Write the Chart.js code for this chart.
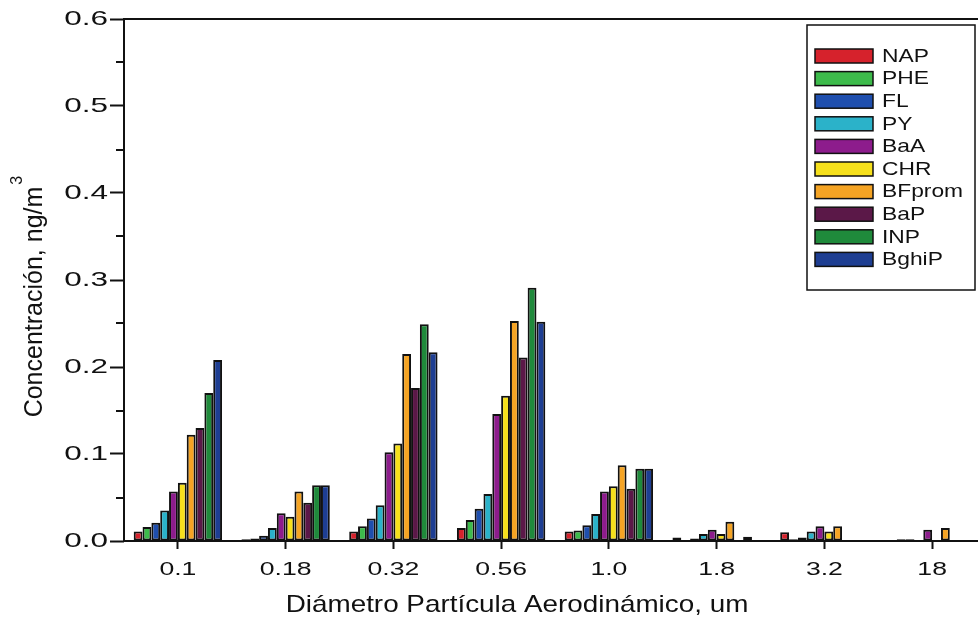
<!DOCTYPE html>
<html>
<head>
<meta charset="utf-8">
<script src="https://cdn.jsdelivr.net/npm/chart.js@4/dist/chart.umd.min.js"></script>
<style>
  html, body { margin: 0; padding: 0; background: #ffffff; overflow: hidden; }
  #wrap { position: absolute; left: 0; top: 0; width: 990px; height: 621px; }
</style>
</head>
<body>
<div id="wrap"><canvas id="chart" width="990" height="621"></canvas></div>
<script>
// Aerodynamic diameter classes (um)
const categories = ['0.1', '0.18', '0.32', '0.56', '1.0', '1.8', '3.2', '18'];

// PAH concentrations, ng/m3, one array per compound
const NAP    = [0.011, 0.002, 0.011, 0.015, 0.011, 0.004, 0.010, 0.000];
const PHE    = [0.016, 0.003, 0.017, 0.024, 0.012, 0.001, 0.002, 0.002];
const FL     = [0.021, 0.006, 0.026, 0.037, 0.018, 0.003, 0.004, 0.002];
const PY     = [0.035, 0.015, 0.041, 0.054, 0.031, 0.008, 0.011, 0.000];
const BaA    = [0.057, 0.032, 0.102, 0.146, 0.057, 0.013, 0.017, 0.013];
const CHR    = [0.067, 0.028, 0.112, 0.167, 0.063, 0.008, 0.011, 0.000];
const BFprom = [0.122, 0.057, 0.215, 0.253, 0.087, 0.022, 0.017, 0.015];
const BaP    = [0.130, 0.044, 0.176, 0.211, 0.060, 0.000, 0.000, 0.000];
const INP    = [0.170, 0.064, 0.249, 0.291, 0.083, 0.005, 0.000, 0.000];
const BghiP  = [0.208, 0.064, 0.217, 0.252, 0.083, 0.000, 0.000, 0.000];

// Axis ticks
const yTicks = [0, 0.1, 0.2, 0.3, 0.4, 0.5, 0.6];
const yMinorTicks = [0.05, 0.15, 0.25, 0.35, 0.45, 0.55];

const series = [
  { label: 'NAP',    data: NAP,    color: '#d6222c' },
  { label: 'PHE',    data: PHE,    color: '#3dbb4b' },
  { label: 'FL',     data: FL,     color: '#1f4fae' },
  { label: 'PY',     data: PY,     color: '#2bb2c9' },
  { label: 'BaA',    data: BaA,    color: '#8d1c8c' },
  { label: 'CHR',    data: CHR,    color: '#f6e01c' },
  { label: 'BFprom', data: BFprom, color: '#f5a424' },
  { label: 'BaP',    data: BaP,    color: '#5b1848' },
  { label: 'INP',    data: INP,    color: '#1f8a3b' },
  { label: 'BghiP',  data: BghiP,  color: '#1e3e92' }
];

const FONT = '"Liberation Sans", Arial, Helvetica, sans-serif';
const INK = '#111';

// Text drawn with a horizontal stretch factor around its anchor point
function wideText(ctx, text, x, y, size, sx, align, baseline) {
  ctx.save();
  ctx.translate(x, y);
  ctx.scale(sx, 1);
  ctx.font = size + 'px ' + FONT;
  ctx.textAlign = align;
  ctx.textBaseline = baseline;
  ctx.fillStyle = INK;
  ctx.fillText(text, 0, 0);
  ctx.restore();
}

// Frame, minor ticks, tick labels, axis titles and the boxed legend
const decorations = {
  id: 'decorations',
  afterDraw(chart) {
    const ctx = chart.ctx;
    const a = chart.chartArea;
    const xs = chart.scales.x;
    const ys = chart.scales.y;

    ctx.save();
    ctx.strokeStyle = INK;
    ctx.lineWidth = 2;
    ctx.strokeRect(a.left, a.top, a.right - a.left, a.bottom - a.top);

    // minor ticks on the value axis
    ctx.beginPath();
    yMinorTicks.forEach(v => {
      const py = Math.round(ys.getPixelForValue(v));
      ctx.moveTo(a.left - 8, py);
      ctx.lineTo(a.left, py);
    });
    ctx.stroke();

    // value axis tick labels
    ys.ticks.forEach(t => {
      wideText(ctx, Number(t.value).toFixed(1), 108, ys.getPixelForValue(t.value),
               21, 1.5, 'right', 'middle');
    });

    // category axis tick labels
    xs.ticks.forEach((t, i) => {
      wideText(ctx, xs.getLabelForValue(t.value), xs.getPixelForTick(i), 575,
               19, 1.4, 'center', 'alphabetic');
    });

    // value axis title with superscript
    ctx.fillStyle = INK;
    ctx.translate(42, 302);
    ctx.rotate(-Math.PI / 2);
    ctx.font = '25px ' + FONT;
    ctx.textAlign = 'center';
    ctx.textBaseline = 'alphabetic';
    const main = 'Concentración, ng/m';
    const w = ctx.measureText(main).width;
    ctx.fillText(main, 0, 0);
    ctx.font = '16px ' + FONT;
    ctx.textAlign = 'left';
    ctx.fillText('3', w / 2 + 2, -20);
    ctx.setTransform(1, 0, 0, 1, 0, 0);

    // category axis title
    wideText(ctx, 'Diámetro Partícula Aerodinámico, um', 517, 605, 24, 1.16, 'center', 'middle');

    // legend
    const lx = 807, ly = 25, lw = 168, lh = 265;
    ctx.fillStyle = '#ffffff';
    ctx.fillRect(lx, ly, lw, lh);
    ctx.lineWidth = 1.5;
    ctx.strokeStyle = INK;
    ctx.strokeRect(lx, ly, lw, lh);
    chart.data.datasets.forEach((ds, i) => {
      const sy = 49 + i * 22.6;
      ctx.fillStyle = ds.backgroundColor;
      ctx.fillRect(815, sy, 58, 14);
      ctx.lineWidth = 1.5;
      ctx.strokeStyle = INK;
      ctx.strokeRect(815, sy, 58, 14);
      wideText(ctx, ds.label, 882, sy + 7.5, 19, 1.2, 'left', 'middle');
    });
    ctx.restore();
  }
};

new Chart(document.getElementById('chart'), {
  type: 'bar',
  data: {
    labels: categories,
    datasets: series.map(s => ({
      label: s.label,
      data: s.data,
      backgroundColor: s.color,
      borderColor: INK,
      borderWidth: 2,
      borderSkipped: false,
      categoryPercentage: 0.82,
      barPercentage: 1.0
    }))
  },
  options: {
    responsive: false,
    animation: false,
    devicePixelRatio: 1,
    layout: { padding: { top: 19, right: 4, left: 0, bottom: 0 } },
    plugins: {
      legend: { display: false },
      tooltip: { enabled: false },
      title: { display: false }
    },
    scales: {
      x: {
        offset: true,
        border: { display: false },
        grid: {
          offset: false,
          drawOnChartArea: false,
          drawTicks: true,
          tickLength: 8,
          tickWidth: 2,
          tickColor: INK
        },
        ticks: { display: false },
        afterFit(scale) { scale.height = 80; }
      },
      y: {
        min: 0,
        max: 0.6,
        border: { display: false },
        grid: {
          drawOnChartArea: false,
          drawTicks: true,
          tickLength: 14,
          tickWidth: 2,
          tickColor: INK
        },
        afterBuildTicks(scale) {
          scale.ticks = yTicks.map(v => ({ value: v }));
        },
        ticks: { display: false },
        afterFit(scale) { scale.width = 124; }
      }
    }
  },
  plugins: [decorations]
});
</script>
</body>
</html>
